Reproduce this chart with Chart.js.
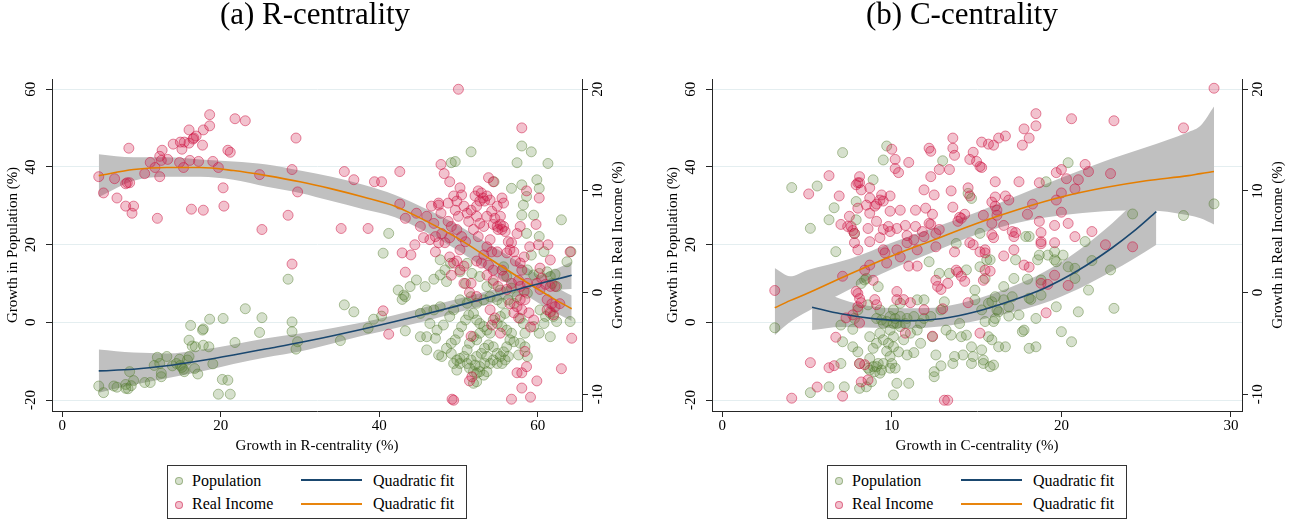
<!DOCTYPE html>
<html>
<head>
<meta charset="utf-8">
<script src="https://cdn.jsdelivr.net/npm/chart.js@4.4.1/dist/chart.umd.min.js"></script>
<style>
  body { margin: 0; background: #fff; }
  #page { position: relative; width: 1301px; height: 522px; overflow: hidden; font-family: "Liberation Serif", "Times New Roman", serif; }
  .panel { position: absolute; top: 0; height: 462px; }
  .legend { position: absolute; top: 465px; width: 300px; height: 54px; box-sizing: border-box; border: 1px solid #333; }
  .legend span { position: absolute; font-size: 16px; line-height: 16px; white-space: nowrap; color: #000; }
  .legend .dot { width: 6px; height: 6px; border-radius: 50%; }
  .legend .seg { width: 61px; height: 2px; left: 133px; }
</style>
</head>
<body>
<div id="page">
  <div class="panel" style="left:0;width:630px"><canvas id="chartR" width="630" height="462"></canvas></div>
  <div class="panel" style="left:634px;width:656px"><canvas id="chartC" width="656" height="462"></canvas></div>

  <div class="legend" style="left:167px">
    <span class="dot" id="dotPopR" style="left:7px;top:11px"></span>
    <span style="left:24px;top:7px">Population</span>
    <span class="seg" style="top:13px;background:#1a476f"></span>
    <span style="left:205px;top:7px">Quadratic fit</span>
    <span class="dot" id="dotIncR" style="left:7px;top:35px"></span>
    <span style="left:24px;top:30px">Real Income</span>
    <span class="seg" style="top:37px;background:#e8850e"></span>
    <span style="left:205px;top:30px">Quadratic fit</span>
  </div>
  <div class="legend" style="left:827px">
    <span class="dot" id="dotPopC" style="left:7px;top:11px"></span>
    <span style="left:24px;top:7px">Population</span>
    <span class="seg" style="top:13px;background:#1a476f"></span>
    <span style="left:205px;top:7px">Quadratic fit</span>
    <span class="dot" id="dotIncC" style="left:7px;top:35px"></span>
    <span style="left:24px;top:30px">Real Income</span>
    <span class="seg" style="top:37px;background:#e8850e"></span>
    <span style="left:205px;top:30px">Quadratic fit</span>
  </div>
</div>

<script>
// tick labels
const popTicks = [-20, 0, 20, 40, 60]
const incTicks = [-10, 0, 10, 20]
const rTicks = [0, 20, 40, 60]
const cTicks = [0, 10, 20, 30]

// (a) R-centrality: [growth in R-centrality, growth in population]
const rPop = [
  [4.6,-16.4],[5.2,-18.1],[6.5,-16.4],[6.9,-16.7],[8.0,-16.0],[8.0,-17.0],[8.3,-17.1],[8.5,-12.7],[8.7,-16.3],[9.0,-15.0],
  [10.4,-15.5],[11.1,-15.5],[11.6,-11.1],[12.0,-9.0],[12.3,-10.6],[12.5,-14.0],[12.5,-13.1],[13.2,-8.8],[13.9,-11.2],[14.4,-10.6],
  [14.8,-9.5],[14.9,-11.1],[15.1,-11.6],[15.3,-12.1],[15.4,-12.7],[15.8,-9.7],[16.0,-8.8],[16.2,-0.8],[16.0,-4.6],[16.4,-6.1],
  [16.7,-11.9],[16.8,-6.3],[17.1,-13.3],[17.7,-2.0],[17.8,-1.7],[17.8,-5.9],[18.5,-6.3],[18.6,0.8],[19.0,-10.7],[19.7,-18.5],
  [20.2,-14.7],[20.3,1.0],[20.9,-14.9],[21.2,-18.5],[21.8,-5.2],[23.1,3.5],[24.9,-2.6],[25.2,1.2],[28.5,11.1],[29.0,0.1],
  [29.0,-2.4],[29.5,-6.9],[29.7,-5.0],
  [49.1,41.1],[49.6,41.4],[51.6,43.9],[54.5,36.2],[56.7,34.5],[57.4,41.1],[58.0,45.4],[59.2,43.9],[61.3,40.9],[58.0,35.4],
  [58.6,32.4],[58.2,30.2],[59.9,36.7],[60.2,34.5],[58.0,27.6],[59.5,27.6],[63.0,26.4],[41.2,22.9],[40.5,17.8],[47.7,16.1],
  [48.3,13.5],[49.0,15.2],[46.9,11.1],[44.7,10.9],[45.8,9.2],[43.9,9.2],[42.4,8.3],[43.1,7.0],[42.9,5.9],[43.3,6.6],
  [35.6,4.5],[36.8,2.7],[35.1,-4.7],[38.6,-1.5],[39.3,0.8],[40.3,1.6],[43.3,-2.2],
  [58.6,22.9],[59.2,17.3],[60.2,22.1],[60.8,18.2],[58.7,13.5],[59.5,12.2],[60.2,12.6],[61.2,13.0],[61.6,11.8],[62.2,12.4],
  [61.8,10.0],[62.4,9.2],[63.7,15.6],[64.2,18.2],[58.7,7.5],[60.3,3.2],[64.1,0.2],[61.6,-3.7],
  [47.7,12.2],[48.5,10.5],[50.2,13.0],[51.1,15.2],[50.9,10.0],[51.7,12.6],[52.7,11.8],[53.6,9.2],[54.4,10.0],[55.3,8.3],
  [55.7,14.3],[56.1,11.8],[56.7,8.8],[57.4,6.6],[57.0,4.9],[56.3,5.8],[55.5,4.9],[54.9,5.8],[54.0,6.6],[53.2,5.8],
  [52.3,4.9],[51.6,6.6],[51.1,4.9],[50.2,5.8],[49.4,3.2],[48.9,1.5],[47.7,4.0],[46.9,3.2],[46.0,3.2],[45.2,2.3],
  [46.4,-0.3],[47.3,-2.0],[48.1,-0.7],[45.2,-3.7],[46.0,-3.7],[47.1,-4.1],[46.0,-7.1],[47.5,-8.4],[47.9,-8.8],[48.5,-6.7],
  [49.1,-5.4],[49.6,-4.5],[50.0,-2.8],[50.4,-1.1],[50.9,0.6],[51.3,1.9],[51.9,2.3],[52.3,0.6],[52.7,-0.3],[53.2,-1.1],
  [53.6,-2.0],[54.0,-2.8],[52.7,-2.8],[52.3,-4.5],[51.9,-3.7],[51.4,-5.4],[51.1,-7.1],[50.7,-8.8],[50.2,-10.6],[49.8,-9.7],
  [49.4,-10.6],[49.1,-8.0],[51.1,-10.6],[51.4,-11.8],[51.9,-12.7],[52.3,-13.1],[52.7,-12.7],[53.2,-13.6],[53.6,-12.7],[52.7,-11.4],
  [52.1,-11.0],[51.6,-9.7],[52.3,-8.8],[52.9,-8.0],[53.3,-6.7],[53.8,-5.8],[54.4,-6.3],[54.9,-8.0],[55.3,-8.8],[55.7,-7.6],
  [56.1,-6.3],[56.5,-4.5],[57.0,-5.0],[56.7,-2.8],[56.1,-2.0],[55.5,-1.1],[54.9,-0.3],[54.4,0.6],[55.3,1.5],[55.9,2.3],
  [54.4,-9.7],[54.0,-10.6],[54.9,-10.6],[55.5,-10.6],[55.9,-9.7],[56.3,-8.8],[53.6,-8.8],[53.3,-10.6],[52.3,-15.3],[51.9,-15.7],
  [49.8,-12.3],[50.2,-9.3],[58.2,-0.3],[57.8,1.0],[58.4,-2.8],[57.8,-5.4],[58.4,-6.3],[58.7,-8.8],[57.6,-8.4],[59.5,-1.1],
  [60.2,-2.8],[60.8,-0.3],[61.0,1.5],[61.6,2.3],[62.0,1.5],[62.4,0.2]
]

// (a) R-centrality: [growth in R-centrality, growth in real income]
const rInc = [
  [4.6,11.4],[5.2,9.8],[6.6,11.2],[6.9,9.3],[8.0,8.5],[8.0,10.7],[8.2,10.8],[8.5,10.8],[8.4,14.2],[8.8,7.8],
  [9.0,8.5],[10.4,11.7],[11.1,12.8],[11.7,12.3],[12.0,7.3],[12.3,11.4],[12.3,13.4],[12.5,13.0],[12.6,14.0],[13.3,13.1],
  [14.0,14.6],[14.8,12.8],[14.9,14.8],[15.1,14.1],[15.3,12.3],[15.4,14.8],[16.0,14.7],[16.0,16.0],[16.1,13.0],[16.3,8.2],
  [16.5,15.1],[16.6,15.2],[16.9,15.4],[17.2,12.9],[17.7,14.5],[17.8,16.0],[17.8,8.1],[18.6,16.4],[18.6,17.5],[19.0,12.9],
  [19.7,12.3],[20.3,10.3],[20.4,8.5],[20.9,14.0],[21.2,13.8],[21.8,17.1],[23.1,16.9],[24.9,11.6],[25.2,6.2],[28.5,7.6],
  [29.0,12.1],[29.0,2.8],[29.5,15.2],[29.7,9.9],
  [35.6,11.9],[36.8,11.1],[39.4,10.9],[40.3,10.9],[42.6,11.9],[35.2,6.3],[38.6,6.3],[42.6,8.7],[43.3,7.3],[42.9,3.9],
  [43.3,2.0],[44.0,3.7],[40.5,-1.8],[41.2,-4.1],[47.8,12.6],[48.2,11.7],[48.9,10.9],[48.7,8.8],[50.0,20.0],[47.5,8.6],
  [47.8,7.8],[44.7,7.8],[46.0,7.5],[45.2,6.5],[44.5,4.7],[45.6,5.4],[46.4,5.2],[47.1,5.5],[46.9,6.8],[47.5,4.9],
  [47.9,5.8],[46.6,8.5],[47.5,8.8],[49.4,9.5],[49.8,9.0],[50.2,10.3],[50.4,9.6],[49.6,8.1],[50.0,7.5],[50.7,8.5],
  [51.1,7.8],[51.3,7.0],[49.1,6.5],[48.7,7.0],[49.8,6.2],[50.4,5.5],[50.9,5.0],[50.2,4.2],[48.9,3.5],[49.4,2.9],
  [49.8,3.1],[49.1,1.7],[50.7,0.9],[51.6,0.9],[51.4,0.0],[52.3,-0.4],[52.5,10.0],[52.9,9.8],[53.1,9.3],[52.7,9.0],
  [53.3,9.0],[53.6,9.5],[54.0,9.1],[52.1,9.5],[53.8,11.3],[54.4,10.9],[52.3,8.5],[51.6,8.1],[52.3,7.5],[52.7,6.8],
  [51.9,6.2],[52.5,5.5],[53.2,6.5],[53.6,7.5],[54.2,8.0],[54.6,7.3],[54.9,6.5],[54.4,6.7],[55.3,6.7],[55.5,6.2],
  [55.0,6.2],[55.7,6.5],[55.9,6.0],[55.3,7.5],[55.7,8.8],[55.5,9.3],[54.9,8.5],[54.0,5.2],[53.6,4.5],[53.2,3.7],
  [54.2,4.0],[54.9,4.0],[52.9,2.9],[52.3,3.1],[53.8,2.7],[54.4,2.2],[53.6,1.7],[54.4,1.2],[55.0,0.6],[54.0,-1.7],
  [54.2,-3.2],[54.6,-2.5],[55.3,-4.0],[51.6,-4.3],[56.3,5.0],[56.7,4.9],[56.5,4.2],[56.1,3.9],[57.0,4.0],[57.4,5.8],
  [57.8,6.5],[57.2,3.1],[57.8,2.9],[58.3,3.5],[58.0,2.2],[57.6,1.2],[57.8,0.6],[58.3,0.1],[58.7,0.9],[58.4,-0.7],
  [57.8,-0.7],[57.4,-1.4],[58.0,-1.7],[57.0,-2.0],[57.6,-2.5],[56.5,-1.1],[56.1,0.3],[56.7,0.9],[55.7,1.6],[55.5,2.2],
  [58.9,-2.0],[59.1,-3.4],[59.5,-2.7],[58.4,-5.8],[58.6,-7.3],[58.0,-7.9],[57.4,-7.9],[58.0,-9.4],[59.1,-10.3],[56.7,-10.5],
  [59.9,-8.7],[60.2,9.3],[58.6,10.0],[59.8,6.7],[59.0,4.5],[60.1,4.7],[61.3,4.7],[61.6,3.2],[60.3,2.4],[59.9,0.9],
  [60.5,1.4],[61.0,0.8],[61.6,0.6],[62.2,0.6],[60.3,0.3],[61.2,-0.7],[61.8,-1.1],[62.2,-1.4],[61.6,-1.9],[62.0,-2.2],
  [61.2,-1.7],[62.8,-1.1],[64.1,4.0],[64.3,-4.5],[63.0,-7.5],[58.0,16.2],[51.4,-8.7],[51.7,-8.3],[49.4,-10.6],[49.2,-10.5],
  [48.3,4.9],[47.1,4.0],[48.9,5.4],[50.2,2.2],[50.7,2.6]
]

// (a) fitted curves and their bands
const rPopFitX = [4.6, 9, 13.2, 17.4, 21.6, 25.8, 30, 34, 38, 42, 46, 50, 54, 58, 62, 64.3]
const rPopFit = [-12.5, -12.1, -11.2, -9.9, -8.4, -6.8, -5.2, -3.5, -1.7, 0.2, 2.2, 4.3, 6.5, 8.8, 10.9, 12.1]
const rPopHi = [-7.0, -7.8, -8.0, -7.1, -5.7, -4.1, -2.9, -1.5, 0.0, 1.9, 4.0, 6.1, 8.2, 10.5, 13.5, 15.6]
const rPopLo = [-18.1, -16.1, -14.4, -12.7, -10.7, -9.0, -7.5, -5.5, -3.4, -1.5, 0.4, 2.6, 4.8, 7.0, 8.3, 8.6]
const rIncFitX = [4.6, 9, 13.2, 17.4, 21.6, 25.8, 30, 34, 38, 42, 46, 50, 54, 58, 62, 64.3]
const rIncFit = [11.5, 12.1, 12.3, 12.3, 12.0, 11.5, 10.9, 10.2, 9.4, 8.5, 7.0, 5.3, 3.3, 1.3, -0.6, -1.6]
const rIncHi = [13.6, 13.3, 13.3, 13.1, 12.9, 12.6, 12.0, 11.4, 10.6, 9.6, 8.2, 6.6, 4.7, 2.8, 0.7, -0.3]
const rIncLo = [9.4, 11.0, 11.4, 11.4, 11.1, 10.4, 9.8, 9.0, 8.2, 7.4, 5.9, 4.1, 2.0, 0.0, -1.9, -2.8]

// (b) C-centrality: [growth in C-centrality, growth in population]
const cPop = [
  [3.1,-1.4],[4.1,34.7],[5.2,24.2],[5.2,-18.1],[5.6,35.1],[6.3,26.4],[6.6,29.5],[6.7,18.2],[6.3,-16.6],[7.2,-16.6],
  [7.1,43.7],[7.0,-0.7],[7.1,-5.0],[7.0,-10.6],[7.7,-6.3],[7.7,-1.8],[7.8,1.0],[8.0,3.2],[7.9,31.1],[7.9,26.4],
  [7.8,22.9],[8.0,-7.6],[8.1,-10.6],[8.1,-17.0],[8.2,10.0],[8.4,10.9],[8.5,11.3],[8.6,4.5],[8.7,-3.7],[8.9,-6.7],
  [8.7,-9.3],[8.7,-12.3],[9.0,-12.7],[9.1,-11.4],[8.5,-16.6],[8.8,-15.3],[8.9,36.7],[9.2,9.2],[9.3,3.2],[9.5,-0.3],
  [9.5,-4.5],[9.7,-7.4],[9.5,-10.6],[9.3,-13.1],[9.5,41.8],[9.7,45.4],[9.9,1.5],[9.9,-2.0],[10.1,-3.7],[9.8,-5.4],
  [10.1,-6.3],[10.3,-0.3],[10.5,1.5],[10.0,-10.6],[9.9,-8.8],[10.2,-11.8],[10.1,-18.7],[10.3,-15.7],[10.4,-7.6],[10.5,4.9],
  [10.8,-0.3],[11.0,-15.7],[10.9,-8.4],[11.3,-7.8],[11.5,-2.0],[11.5,5.8],[11.7,-5.4],[11.9,5.8],[11.9,1.0],[12.2,15.6],
  [12.3,1.5],[12.4,-3.7],[12.5,-12.7],[12.5,-14.0],[12.6,-8.4],[12.8,12.6],[12.9,3.2],[12.9,-11.2],[13.0,41.6],[13.1,5.3],
  [13.2,-2.0],[13.4,12.6],[13.5,-3.3],[13.6,-10.6],[13.7,-8.8],[13.8,20.3],[14.0,-0.3],[14.1,-3.7],[14.2,-8.4],[14.4,-3.3],
  [14.4,13.5],[14.5,33.2],[14.7,-6.3],[14.7,-10.6],[14.8,-8.8],[14.9,8.3],[14.9,5.8],[14.7,31.9],[15.2,22.9],[15.2,14.3],
  [15.3,3.2],[15.3,-7.1],[15.4,-10.6],[15.5,0.2],[15.6,16.1],[15.7,4.9],
  [9.1,1.0],[9.4,0.6],[9.7,0.2],[10.1,-0.3],[10.2,1.0],[10.5,-1.1],[10.9,1.0],[11.3,1.5],[11.7,-0.3],[10.1,3.2],
  [9.3,-2.8],[9.1,-5.4],[10.7,-4.5],[11.1,-2.8],[8.9,-11.4],[9.2,-10.6],[9.4,-12.3],[8.6,-11.8],[9.9,-11.8],
  [15.5,11.3],[15.8,16.1],[16.1,6.6],[16.2,3.2],[15.9,5.3],[16.1,1.0],[16.3,2.7],[16.6,9.2],[16.6,5.8],[16.9,4.0],
  [17.1,6.6],[16.9,1.6],[17.3,16.1],[17.2,11.3],[17.5,1.9],[17.8,-2.0],[17.7,-2.4],[18.0,11.1],[17.9,22.1],[18.1,22.1],
  [18.1,6.2],[18.2,5.9],[18.5,1.0],[18.5,-6.3],[18.1,-6.7],[18.6,16.1],[18.7,17.3],[18.8,10.9],[18.8,7.0],[19.1,36.2],
  [19.2,17.3],[19.6,18.2],[19.6,16.1],[19.7,15.6],[19.7,4.0],[20.0,-2.4],[20.1,17.3],[20.4,41.1],[20.4,14.3],[20.6,-5.0],
  [20.8,13.9],[20.8,11.3],[21.0,2.7],[21.4,20.8],[21.6,8.3],[21.8,15.9],[22.9,13.5],[23.1,3.6],[24.2,27.9],[27.2,27.5],
  [29.0,30.5],[15.4,-9.7],[15.8,-11.4],[16.0,-11.0],[15.7,-3.7],[15.9,-4.5],[16.3,-6.3],[16.7,-6.3],[16.0,0.2]
]

// (b) C-centrality: [growth in C-centrality, growth in real income]
const cInc = [
  [3.1,0.2],[4.1,-10.4],[5.1,9.7],[5.2,-6.9],[5.6,-9.3],[6.3,11.5],[6.3,-7.4],[6.6,-7.2],[6.7,-4.4],[6.9,9.5],
  [7.1,-10.2],[7.0,6.7],[7.1,1.6],[7.3,-2.5],[7.4,6.5],[7.5,7.5],[7.6,6.5],[7.7,6.1],[7.8,5.8],[7.9,10.6],
  [8.0,10.8],[8.1,10.8],[8.0,8.3],[8.1,11.4],[7.8,4.9],[8.0,4.2],[8.0,-0.1],[7.9,0.1],[8.1,-0.6],[8.2,-1.0],
  [8.0,-1.4],[7.7,-2.2],[8.1,-3.0],[8.1,-7.0],[8.2,-8.8],[8.4,-7.1],[8.6,-8.6],[8.2,10.1],[8.5,8.6],[8.7,10.3],
  [8.7,9.3],[8.7,7.8],[8.6,6.3],[8.7,5.0],[8.7,2.7],[8.4,2.2],[8.9,1.2],[9.0,-0.7],[9.1,-1.2],[9.0,8.5],
  [9.1,8.7],[9.3,9.1],[9.4,9.6],[9.5,9.0],[9.1,7.0],[9.5,6.2],[9.3,5.4],[9.6,3.9],[9.7,2.9],[9.5,4.2],
  [9.9,9.5],[9.9,8.0],[9.8,6.5],[9.9,6.0],[10.0,14.1],[10.2,13.1],[10.2,12.2],[10.4,11.8],[10.5,8.1],[10.3,6.3],
  [10.3,4.2],[10.5,3.5],[10.3,0.1],[10.3,-0.7],[10.7,-0.7],[10.8,-4.0],[10.8,6.6],[10.9,4.9],[10.9,5.6],[11.0,2.6],
  [11.0,12.8],[11.1,-1.0],[11.3,5.2],[11.5,4.2],[11.5,2.6],[11.4,8.1],[11.4,6.5],[11.8,6.0],[11.9,5.5],[11.9,10.1],
  [11.9,-1.7],[12.0,8.3],[12.2,14.2],[12.3,13.9],[12.3,11.4],[12.5,9.6],[12.4,7.7],[12.2,6.8],[12.6,5.8],[12.6,4.5],
  [12.6,1.2],[12.4,-4.3],[12.3,6.7],[12.7,0.6],[12.8,6.2],[12.8,12.1],[12.9,0.3],[13.0,-1.6],[13.1,-10.6],[13.3,-10.6],
  [13.3,0.9],[13.4,12.1],[13.5,10.0],[13.6,15.2],[13.6,14.2],[13.6,8.4],[13.7,13.5],[13.7,4.0],[13.8,2.2],[13.9,7.0],
  [14.0,7.4],[14.1,7.3],[14.3,7.7],[13.9,2.0],[14.1,1.6],[14.3,1.1],[14.5,-1.0],[14.5,10.3],[14.6,9.5],[14.6,4.9],
  [14.8,4.7],[14.8,13.8],[14.6,13.1],[15.0,12.9],[15.2,-4.0],[15.2,12.4],[15.3,14.8],[15.2,4.0],[15.5,3.9],[15.5,2.2],
  [15.7,14.6],[16.0,14.5],[16.3,15.2],[16.7,15.4],[15.3,12.3],[16.1,10.9],[16.1,9.4],[15.9,8.9],[16.1,8.5],[16.2,8.1],
  [16.2,7.6],[15.4,7.6],[15.9,6.8],[16.6,6.6],[16.7,9.5],[16.9,9.1],[17.1,6.0],[17.2,5.5],[17.3,5.9],[15.9,5.7],
  [16.0,5.4],[15.5,4.2],[17.2,4.2],[17.5,10.9],[17.7,14.5],[17.8,16.1],[18.1,15.2],[18.5,17.6],[18.5,16.4],[18.3,8.7],
  [18.0,7.7],[17.8,2.7],[18.1,2.5],[16.6,3.6],[15.8,2.1],[15.4,1.2],[18.7,10.8],[18.7,7.0],[18.8,5.9],[18.8,5.0],
  [18.8,4.8],[18.8,0.9],[19.2,0.8],[19.1,-2.0],[19.6,4.9],[19.6,6.6],[19.6,1.7],[19.7,11.8],[20.0,12.1],[19.7,9.1],
  [20.0,7.9],[20.0,9.8],[20.3,11.2],[20.4,6.8],[20.4,0.7],[20.6,17.1],[20.8,10.2],[20.8,5.5],[21.0,11.1],[21.4,12.6],
  [21.6,11.9],[21.8,6.0],[22.6,4.7],[22.9,11.7],[23.1,16.9],[24.2,4.5],[27.2,16.2],[29.0,20.1]
]

// (b) fitted curves and their bands
const cPopFitX = [5.3, 7, 9, 11, 13, 15, 17, 19, 21, 23, 24.2, 25.6]
const cPopFit = [3.9, 2.2, 0.9, 0.4, 1.0, 2.8, 5.5, 8.8, 13.4, 19.2, 23.2, 28.5]
const cPopHi = [9.5, 6.0, 4.0, 3.6, 4.0, 6.0, 9.0, 13.0, 18.5, 25.5, 30.5, 37.0]
const cPopLo = [-2.0, -1.2, -1.4, -1.5, -1.0, 0.4, 2.5, 5.0, 8.6, 13.2, 16.2, 20.0]
const cIncFitX = [3.1, 4.0, 5.0, 7.5, 10, 12.5, 15, 17.5, 20, 22.5, 25, 27.5, 28.2, 29]
const cIncFit = [-1.5, -0.8, -0.1, 1.8, 3.6, 5.2, 6.8, 8.2, 9.4, 10.3, 11.0, 11.5, 11.7, 11.9]
const cIncHi = [2.4, 1.6, 2.2, 3.3, 4.9, 6.4, 7.9, 9.6, 11.3, 12.9, 14.3, 15.8, 16.4, 18.3]
const cIncLo = [-4.2, -2.9, -1.9, 0.3, 2.3, 4.0, 5.7, 6.9, 7.6, 8.0, 8.1, 7.6, 7.3, 6.7]

const SERIF = '"Liberation Serif", "Times New Roman", serif'
const GREEN_FILL = 'rgba(85, 125, 47, 0.24)'
const GREEN_LINE = 'rgba(85, 125, 47, 0.45)'
const RED_FILL = 'rgba(205, 20, 65, 0.26)'
const RED_LINE = 'rgba(205, 20, 65, 0.5)'
const NAVY = '#1a476f'
const ORANGE = '#e57e00'
const BAND = '#c0c0c0'
const AXIS = '#262626'
const GRID = '#e4eef0'

Chart.defaults.font.family = SERIF
Chart.defaults.color = '#000'

for (const id of ['dotPopR', 'dotPopC']) {
  const el = document.getElementById(id)
  el.style.background = GREEN_FILL
  el.style.border = '1px solid ' + GREEN_LINE
}
for (const id of ['dotIncR', 'dotIncC']) {
  const el = document.getElementById(id)
  el.style.background = RED_FILL
  el.style.border = '1px solid ' + RED_LINE
}

const toPoints = arr => arr.map(p => ({ x: p[0], y: p[1] }))
const toCurve = (xs, ys) => xs.map((x, i) => ({ x, y: ys[i] }))

// draws the right-hand axis title so that it reads bottom to top
const rightTitle = {
  id: 'rightTitle',
  afterDraw(chart, args, opts) {
    const { ctx, chartArea } = chart
    ctx.save()
    ctx.translate(chartArea.right + opts.offset, (chartArea.top + chartArea.bottom) / 2)
    ctx.rotate(-Math.PI / 2)
    ctx.font = '15px ' + SERIF
    ctx.fillStyle = '#000'
    ctx.textAlign = 'center'
    ctx.textBaseline = 'middle'
    ctx.fillText(opts.text, 0, 0)
    ctx.restore()
  }
}

function bandPair(xs, hi, lo, axis) {
  return [
    { type: 'line', data: toCurve(xs, hi), yAxisID: axis, borderWidth: 0, pointRadius: 0,
      fill: false, cubicInterpolationMode: 'monotone', order: 5 },
    { type: 'line', data: toCurve(xs, lo), yAxisID: axis, borderWidth: 0, pointRadius: 0,
      fill: '-1', backgroundColor: BAND, cubicInterpolationMode: 'monotone', order: 5 }
  ]
}

function fitLine(xs, ys, axis, color) {
  return { type: 'line', label: 'Quadratic fit', data: toCurve(xs, ys), yAxisID: axis,
    borderColor: color, borderWidth: 1.6, pointRadius: 0, fill: false,
    cubicInterpolationMode: 'monotone', order: 1 }
}

function makePanel(id, p) {
  return new Chart(document.getElementById(id), {
    type: 'scatter',
    data: {
      datasets: [
        ...bandPair(p.popFitX, p.popHi, p.popLo, 'y'),
        ...bandPair(p.incFitX, p.incHi, p.incLo, 'y2'),
        { label: 'Population', data: toPoints(p.pop), yAxisID: 'y', pointRadius: 5,
          backgroundColor: GREEN_FILL, borderColor: GREEN_LINE, borderWidth: 1, order: 3 },
        { label: 'Real Income', data: toPoints(p.inc), yAxisID: 'y2', pointRadius: 5,
          backgroundColor: RED_FILL, borderColor: RED_LINE, borderWidth: 1, order: 2 },
        fitLine(p.popFitX, p.popFit, 'y', NAVY),
        fitLine(p.incFitX, p.incFit, 'y2', ORANGE)
      ]
    },
    options: {
      responsive: false,
      animation: false,
      events: [],
      layout: { padding: 0 },
      plugins: {
        legend: { display: false },
        tooltip: { enabled: false },
        title: {
          display: true, text: p.title, color: '#000',
          font: { family: SERIF, size: 31, weight: 'normal', lineHeight: 1 },
          padding: { top: 0, bottom: 48 }
        },
        rightTitle: { text: 'Growth in Real Income (%)', offset: 36 }
      },
      scales: {
        x: {
          type: 'linear', min: p.xMin, max: p.xMax,
          afterBuildTicks: s => { s.ticks = p.xTicks.map(v => ({ value: v })) },
          afterFit: s => { s.height = 51 },
          grid: { drawOnChartArea: false, tickLength: 6, tickColor: AXIS, color: AXIS },
          border: { color: AXIS, width: 1 },
          ticks: { font: { size: 15 }, color: '#000', padding: 0, maxRotation: 0 },
          title: { display: true, text: p.xTitle, color: '#000', font: { size: 15 }, padding: { top: 0, bottom: 7 } }
        },
        y: {
          type: 'linear', position: 'left', min: -22.83, max: 62.65,
          afterBuildTicks: s => { s.ticks = popTicks.map(v => ({ value: v })) },
          afterFit: s => { s.width = p.leftW },
          grid: { color: GRID, tickColor: AXIS, tickLength: 6 },
          border: { color: AXIS, width: 1 },
          ticks: { font: { size: 15 }, color: '#000', minRotation: 90, maxRotation: 90, crossAlign: 'center', padding: 5 },
          title: { display: true, text: 'Growth in Population (%)', color: '#000', font: { size: 15 },
            padding: { top: p.leftTitlePad, bottom: 0 } }
        },
        y2: {
          type: 'linear', position: 'right', min: -11.66, max: 21.01,
          afterBuildTicks: s => { s.ticks = incTicks.map(v => ({ value: v })) },
          afterFit: s => { s.width = 48 },
          grid: { drawOnChartArea: false, tickColor: AXIS, color: AXIS, tickLength: 6 },
          border: { color: AXIS, width: 1 },
          ticks: { font: { size: 15 }, color: '#000', minRotation: 90, maxRotation: 90, crossAlign: 'center', padding: 0 }
        }
      }
    },
    plugins: [rightTitle]
  })
}

makePanel('chartR', {
  title: '(a) R-centrality', xTitle: 'Growth in R-centrality (%)',
  xMin: -1.3, xMax: 65.6, xTicks: rTicks, leftW: 52, leftTitlePad: 4.5,
  pop: rPop, inc: rInc,
  popFitX: rPopFitX, popFit: rPopFit, popHi: rPopHi, popLo: rPopLo,
  incFitX: rIncFitX, incFit: rIncFit, incHi: rIncHi, incLo: rIncLo
})

makePanel('chartC', {
  title: '(b) C-centrality', xTitle: 'Growth in C-centrality (%)',
  xMin: -0.6, xMax: 30.65, xTicks: cTicks, leftW: 78, leftTitlePad: 30.3,
  pop: cPop, inc: cInc,
  popFitX: cPopFitX, popFit: cPopFit, popHi: cPopHi, popLo: cPopLo,
  incFitX: cIncFitX, incFit: cIncFit, incHi: cIncHi, incLo: cIncLo
})
</script>
</body>
</html>
